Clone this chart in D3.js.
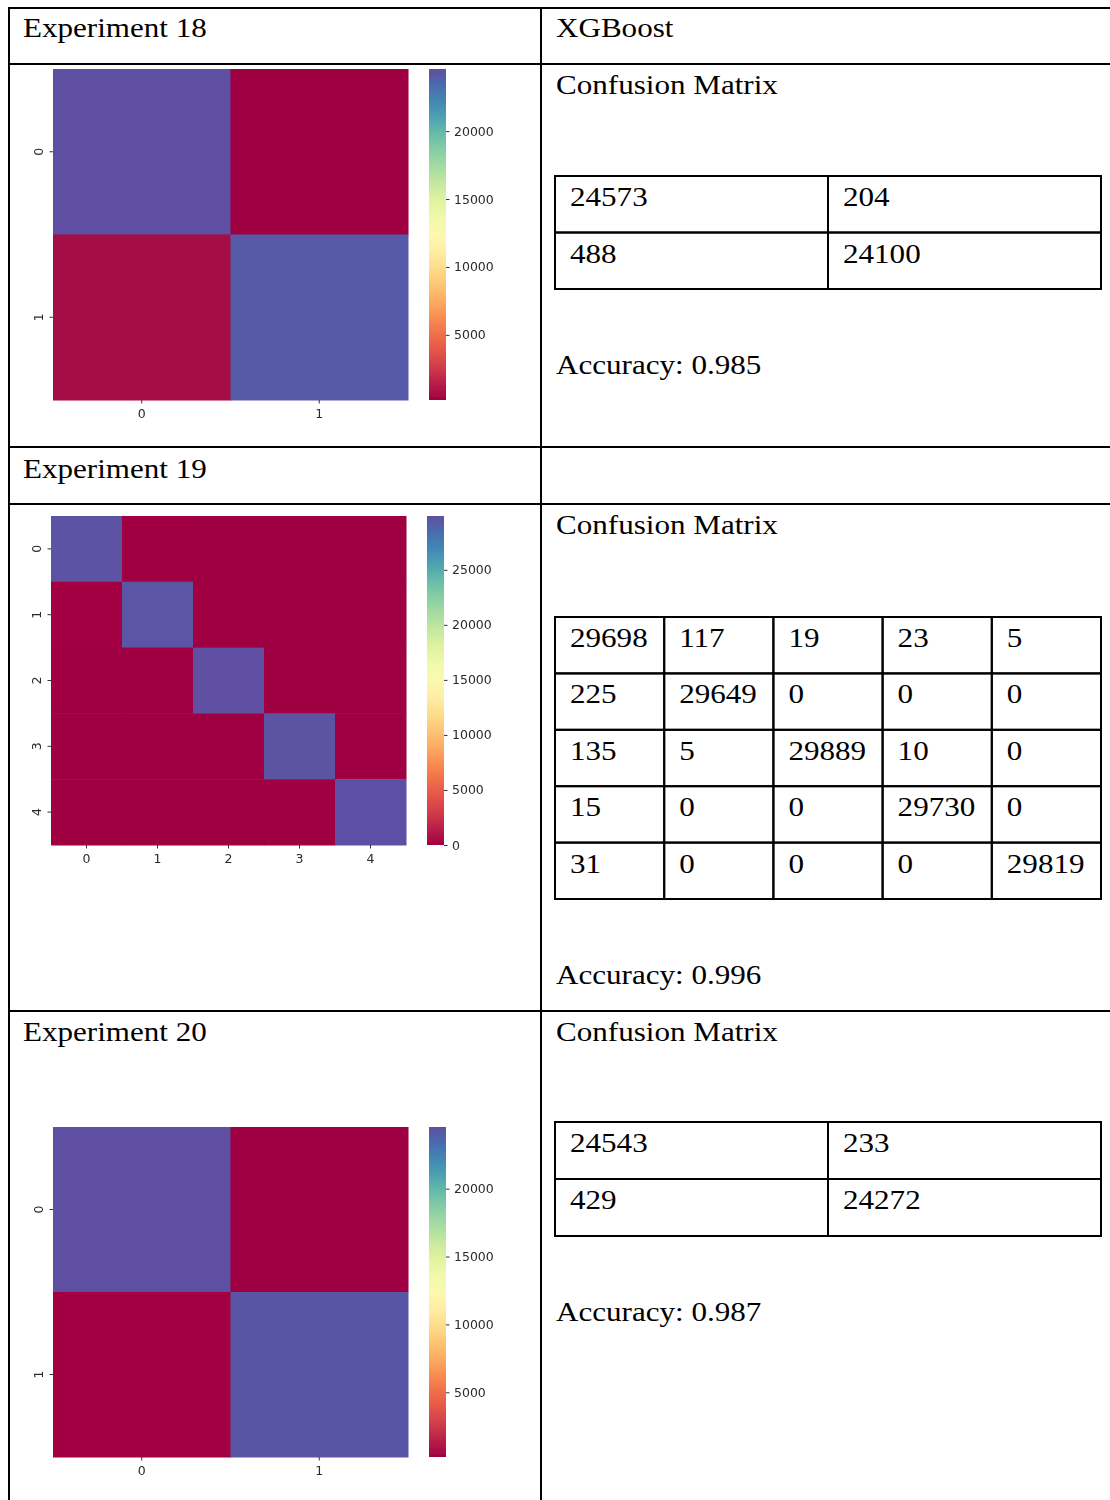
<!DOCTYPE html>
<html>
<head>
<meta charset="utf-8">
<script src="https://cdn.jsdelivr.net/npm/d3@7"></script>
<style>
  body { margin: 0; background: #fff; }
  svg { display: block; }
</style>
</head>
<body>
<script>
// ---- Results of the XGBoost experiments ----
const modelLabel = "XGBoost";
const matrixHeading = "Confusion Matrix";
const accuracyPrefix = "Accuracy: ";
const experimentLabels = ["Experiment 18", "Experiment 19", "Experiment 20"];

const exp18Classes = ["0", "1"];
const exp18Matrix = [
  [24573, 204],
  [488, 24100]
];
const exp18ColorTicks = [5000, 10000, 15000, 20000];
const exp18Accuracy = "0.985";

const exp19Classes = ["0", "1", "2", "3", "4"];
const exp19Matrix = [
  [29698, 117, 19, 23, 5],
  [225, 29649, 0, 0, 0],
  [135, 5, 29889, 10, 0],
  [15, 0, 0, 29730, 0],
  [31, 0, 0, 0, 29819]
];
const exp19ColorTicks = [0, 5000, 10000, 15000, 20000, 25000];
const exp19Accuracy = "0.996";

const exp20Classes = ["0", "1"];
const exp20Matrix = [
  [24543, 233],
  [429, 24272]
];
const exp20ColorTicks = [5000, 10000, 15000, 20000];
const exp20Accuracy = "0.987";

// ---- Page geometry ----
const W = 1110, H = 1500;
const SERIF = "'Liberation Serif', 'Times New Roman', serif";
const SANS = "'DejaVu Sans', 'Liberation Sans', sans-serif";
const FS = 28;      // document text size
const SX = 1.11;    // horizontal stretch of document text

const svg = d3.select("body").append("svg")
  .attr("width", W).attr("height", H)
  .attr("viewBox", `0 0 ${W} ${H}`);

const defs = svg.append("defs");
defs.append("filter").attr("id", "soft")
  .attr("x", "-5%").attr("y", "-5%").attr("width", "110%").attr("height", "110%")
  .append("feGaussianBlur").attr("stdDeviation", 0.45);

function docText(x, y, str) {
  svg.append("text")
    .attr("transform", `translate(${x},${y}) scale(${SX},1)`)
    .attr("font-family", SERIF)
    .attr("font-size", FS)
    .attr("fill", "#000")
    .text(str);
}

// ---- Outer layout table ----
const leftX = 9, midX = 541;
const rowLines = [8, 64, 447, 504, 1011];
const grid = svg.append("g").attr("stroke", "#000").attr("stroke-width", 2);
rowLines.forEach(y => grid.append("line").attr("x1", leftX - 1).attr("x2", W).attr("y1", y).attr("y2", y));
[leftX, midX].forEach(x => grid.append("line").attr("x1", x).attr("x2", x).attr("y1", 7).attr("y2", H));

// ---- Heatmap drawn with seaborn-like styling ----
function drawHeatmap(matrix, classes, colorTicks, box) {
  const g = svg.append("g").attr("filter", "url(#soft)");
  const x = d3.scaleBand().domain(classes).range([box.x0, box.x1]);
  const y = d3.scaleBand().domain(classes).range([box.y0, box.y1]);
  const extent = d3.extent(matrix.flat());
  const color = d3.scaleSequential(d3.interpolateSpectral).domain(extent);

  const cells = [];
  matrix.forEach((row, i) => row.forEach((v, j) => cells.push({ r: classes[i], c: classes[j], v })));
  g.selectAll("rect.cell").data(cells).join("rect")
    .attr("class", "cell")
    .attr("x", d => x(d.c)).attr("y", d => y(d.r))
    .attr("width", x.bandwidth() + 0.5).attr("height", y.bandwidth() + 0.5)
    .attr("fill", d => color(d.v));

  const styleAxis = a => {
    a.attr("font-size", null);
    a.select(".domain").remove();
    a.selectAll("line").attr("stroke", "#333").attr("stroke-width", 1);
    a.selectAll("text").attr("font-family", SANS).attr("font-size", 12.5).attr("fill", "#2a2a2a");
  };

  const tick = 3.5;
  g.append("g").attr("transform", `translate(0,${box.y1})`)
    .call(d3.axisBottom(x).tickSize(tick).tickPadding(6))
    .call(styleAxis);

  g.append("g").attr("transform", `translate(${box.x0},0)`)
    .call(d3.axisLeft(y).tickSize(tick))
    .call(styleAxis)
    .call(a => a.selectAll("text")
      .attr("transform", "rotate(-90)")
      .attr("x", 0).attr("y", -(tick + 6.5)).attr("dy", null)
      .attr("text-anchor", "middle"));

  // colour bar
  const gid = "grad" + box.y0;
  const grad = defs.append("linearGradient").attr("id", gid)
    .attr("x1", 0).attr("y1", 1).attr("x2", 0).attr("y2", 0);
  d3.range(0, 1.0001, 0.05).forEach(t =>
    grad.append("stop").attr("offset", t).attr("stop-color", d3.interpolateSpectral(t)));
  g.append("rect")
    .attr("x", box.cb0).attr("y", box.y0)
    .attr("width", box.cb1 - box.cb0).attr("height", box.y1 - box.y0)
    .attr("fill", `url(#${gid})`);

  const cScale = d3.scaleLinear().domain(extent).range([box.y1, box.y0]);
  g.append("g").attr("transform", `translate(${box.cb1},0)`)
    .call(d3.axisRight(cScale).tickValues(colorTicks).tickFormat(d3.format("d"))
      .tickSize(tick).tickPadding(4.5))
    .call(styleAxis);
}

// ---- Small value tables ----
function drawValueTable(matrix, box) {
  const n = matrix.length;
  const idx = d3.range(n);
  const cx = d3.scaleBand().domain(idx).range([box.x0, box.x1]);
  const cy = d3.scaleBand().domain(idx).range([box.y0, box.y1]);
  const t = svg.append("g");
  matrix.forEach((row, i) => row.forEach((v, j) => {
    t.append("rect")
      .attr("x", cx(j)).attr("y", cy(i))
      .attr("width", cx.bandwidth()).attr("height", cy.bandwidth())
      .attr("fill", "none").attr("stroke", "#000").attr("stroke-width", 2);
    docText(cx(j) + 15, cy(i) + 30, String(v));
  }));
}

// Row 1 / 2: experiment 18
docText(23, 37, experimentLabels[0]);
docText(556, 37, modelLabel);
docText(556, 94, matrixHeading);
drawHeatmap(exp18Matrix, exp18Classes, exp18ColorTicks,
  { x0: 53, x1: 408, y0: 69, y1: 400, cb0: 429, cb1: 446 });
drawValueTable(exp18Matrix, { x0: 555, x1: 1101, y0: 176, y1: 289 });
docText(556, 374, accuracyPrefix + exp18Accuracy);

// Row 3 / 4: experiment 19
docText(23, 478, experimentLabels[1]);
docText(556, 534, matrixHeading);
drawHeatmap(exp19Matrix, exp19Classes, exp19ColorTicks,
  { x0: 51, x1: 406, y0: 516, y1: 845, cb0: 427, cb1: 444 });
drawValueTable(exp19Matrix, { x0: 555, x1: 1101, y0: 617, y1: 899 });
docText(556, 984, accuracyPrefix + exp19Accuracy);

// Row 5: experiment 20
docText(23, 1041, experimentLabels[2]);
docText(556, 1041, matrixHeading);
drawHeatmap(exp20Matrix, exp20Classes, exp20ColorTicks,
  { x0: 53, x1: 408, y0: 1127, y1: 1457, cb0: 429, cb1: 446 });
drawValueTable(exp20Matrix, { x0: 555, x1: 1101, y0: 1122, y1: 1236 });
docText(556, 1321, accuracyPrefix + exp20Accuracy);
</script>
</body>
</html>
